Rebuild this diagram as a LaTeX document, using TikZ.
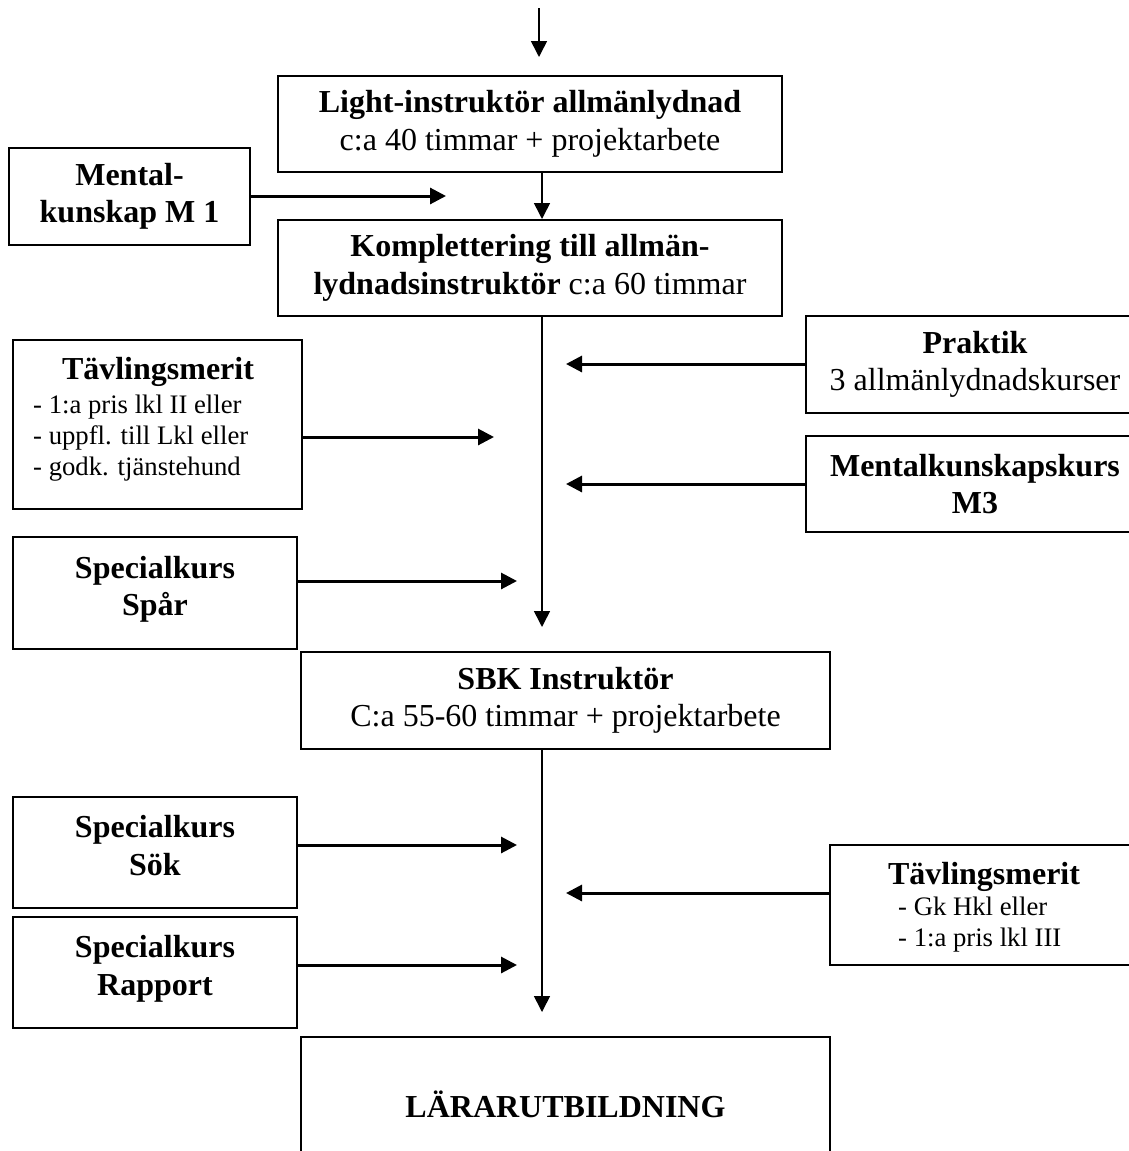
\documentclass[tikz,border=0pt]{standalone}
\usepackage{fontspec}
\setmainfont{Liberation Serif}
\usetikzlibrary{arrows.meta,calc}
\newcommand{\myBig}{\fontsize{32}{37.5}\selectfont}
\newcommand{\mySmall}{\fontsize{26.7}{31}\selectfont}
\begin{document}
\begin{tikzpicture}[x=1pt,y=-1pt,
  box/.style={draw,line width=2pt,inner sep=0pt,align=center,font=\myBig},
  harr/.style={line width=3pt,-{Triangle[length=16pt,width=16pt]}},
  varr/.style={line width=1.6pt,-{Triangle[length=16pt,width=16pt]}},
  lst/.style={anchor=base west,inner sep=0pt,font=\mySmall},
  ttl/.style={anchor=base,inner sep=0pt,font=\myBig\bfseries}]
\path[use as bounding box,clip] (0,0) rectangle (1129,1151);
\fill[white] (0,0) rectangle (1129,1151);

% main column
\node[box,minimum width=504pt,minimum height=96pt] (light) at (530,124)
  {\textbf{Light-instruktör allmänlydnad}\\c:a 40 timmar + projektarbete};
\node[box,minimum width=504pt,minimum height=96pt] (kompl) at (530,268)
  {\textbf{Komplettering till allmän-}\\\textbf{lydnadsinstruktör} c:a 60 timmar};
\node[box,minimum width=529pt,minimum height=97pt] (sbk) at (565.5,700.5)
  {\textbf{SBK Instruktör}\\C:a 55-60 timmar + projektarbete};
\node[box,minimum width=529pt,minimum height=134pt] (larar) at (565.5,1104)
  {\textbf{LÄRARUTBILDNING}};

% left boxes
\node[box,font=\myBig\bfseries,minimum width=241pt,minimum height=97pt] (mental) at (129.5,196.5)
  {Mental-\\kunskap M 1};
\node[box,minimum width=289pt,minimum height=169pt] (tavl1) at (157.5,424.5) {};
\node[ttl] (tavl1t) at (158,379) {Tävlingsmerit};
\node[lst] (tavl1a) at (33,413) {- 1:a pris lkl II eller};
\node[lst] (tavl1b) at (33,444) {- uppfl. till Lkl eller};
\node[lst] (tavl1c) at (33,475) {- godk. tjänstehund};
\node[box,font=\myBig\bfseries,minimum width=284pt,minimum height=112pt] (spar) at (155,593)
  {Specialkurs\\Spår\\[-23pt]\mbox{}};
\node[box,font=\myBig\bfseries,minimum width=284pt,minimum height=111pt] (sok) at (155,852.5)
  {Specialkurs\\Sök\\[-23pt]\mbox{}};
\node[box,font=\myBig\bfseries,minimum width=284pt,minimum height=111pt] (rapport) at (155,972.5)
  {Specialkurs\\Rapport\\[-23pt]\mbox{}};

% right boxes
\node[box,minimum width=338pt,minimum height=97pt] (praktik) at (975,364.5)
  {\textbf{Praktik}\\3 allmänlydnadskurser};
\node[box,font=\myBig\bfseries,minimum width=338pt,minimum height=96pt] (mkurs) at (975,484)
  {Mentalkunskapskurs\\M3};
\node[box,minimum width=308pt,minimum height=120pt] (tavl2) at (984,905) {};
\node[ttl] (tavl2t) at (984,884) {Tävlingsmerit};
\node[lst] (tavl2a) at (898,915) {- Gk Hkl eller};
\node[lst] (tavl2b) at (898,946) {- 1:a pris lkl III};

% coordinates
\coordinate (c0) at (539,8);
\coordinate (c1) at (539,57);
\coordinate (mx) at (542,0);
\coordinate (e1) at (542,627);
\coordinate (e2) at (542,1012);
\coordinate (hm) at (446,196);
\coordinate (hp) at (566,364);
\coordinate (ht1) at (494,437);
\coordinate (hmk) at (566,484);
\coordinate (hs) at (517,581);
\coordinate (hsk) at (517,845);
\coordinate (ht2) at (566,893);
\coordinate (hr) at (517,965);

% vertical arrows
\draw[varr] (c0) -- (c1);
\draw[varr] (light.south -| mx) -- (kompl.north -| mx);
\draw[varr] (kompl.south -| mx) -- (e1);
\draw[varr] (sbk.south -| mx) -- (e2);

% horizontal arrows
\draw[harr] (mental.east |- hm) -- (hm);
\draw[harr] (praktik.west |- hp) -- (hp);
\draw[harr] (tavl1.east |- ht1) -- (ht1);
\draw[harr] (mkurs.west |- hmk) -- (hmk);
\draw[harr] (spar.east |- hs) -- (hs);
\draw[harr] (sok.east |- hsk) -- (hsk);
\draw[harr] (tavl2.west |- ht2) -- (ht2);
\draw[harr] (rapport.east |- hr) -- (hr);
\end{tikzpicture}
\end{document}
